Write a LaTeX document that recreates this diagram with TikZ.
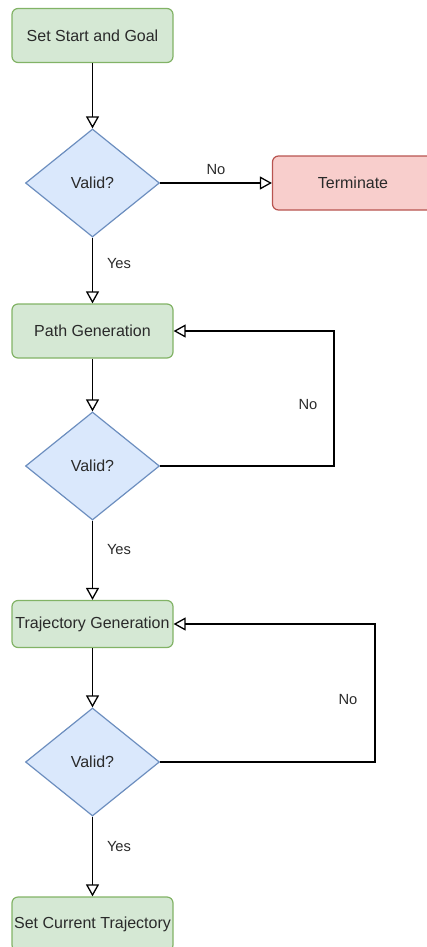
\documentclass[tikz,border=0pt]{standalone}
\usepackage{fontspec}
\setmainfont{Liberation Sans}
\usetikzlibrary{shapes.geometric,arrows.meta}
\definecolor{gfill}{HTML}{D5E8D4}
\definecolor{gline}{HTML}{82B366}
\definecolor{bfill}{HTML}{DAE8FC}
\definecolor{bline}{HTML}{6C8EBF}
\definecolor{rfill}{HTML}{F8CECC}
\definecolor{rline}{HTML}{B85450}
\definecolor{txt}{HTML}{2A2A2A}
\tikzset{
  x=1pt, y=-1pt,
  box/.style={draw=gline, fill=gfill, line width=1.2pt, rounded corners=6pt,
    minimum width=161pt, minimum height=54pt, inner sep=0pt, text=txt,
    font=\fontsize{16}{19}\selectfont},
  redbox/.style={box, draw=rline, fill=rfill},
  decide/.style={shape=diamond, draw=bline, fill=bfill, line width=1.2pt,
    minimum width=134pt, minimum height=108pt, inner sep=0pt, text=txt,
    font=\fontsize{16}{19}\selectfont},
  conn/.style={draw=black, line width=1.3pt,
    -{Triangle[open, length=12pt, width=13pt, fill=white]}},
  lbl/.style={text=txt, font=\fontsize{14.7}{17}\selectfont, inner sep=0pt},
}
\begin{document}
\begin{tikzpicture}
\useasboundingbox (0,0) rectangle (426,947);
\node[box] (b1) at (92.5,35.5) {Set Start and Goal};
\node[decide] (d1) at (92.5,183) {Valid?};
\node[redbox] (t) at (353,183) {Terminate};
\node[box] (b2) at (92.5,331) {Path Generation};
\node[decide] (d2) at (92.5,466) {Valid?};
\node[box, minimum height=47pt] (b3) at (92.5,624) {Trajectory Generation};
\node[decide] (d3) at (92.5,762) {Valid?};
\node[box] (b4) at (92.5,924) {Set Current Trajectory};
\coordinate (l1a) at (334,466);
\coordinate (l1b) at (334,331);
\coordinate (l2a) at (375,762);
\coordinate (l2b) at (375,624);

\draw[conn] (b1) -- (d1);
\draw[conn] (d1) -- (t);
\draw[conn] (d1) -- (b2);
\draw[conn] (b2) -- (d2);
\draw[conn] (d2.east) -- (l1a) -- (l1b) -- (b2.east);
\draw[conn] (d2) -- (b3);
\draw[conn] (b3) -- (d3);
\draw[conn] (d3.east) -- (l2a) -- (l2b) -- (b3.east);
\draw[conn] (d3) -- (b4);

\node[lbl] (n1) at (216,170) {No};
\node[lbl] (n2) at (308,405) {No};
\node[lbl] (n3) at (348,700) {No};
\node[lbl] (y1) at (119,264) {Yes};
\node[lbl] (y2) at (119,550) {Yes};
\node[lbl] (y3) at (119,847) {Yes};
\end{tikzpicture}
\end{document}
